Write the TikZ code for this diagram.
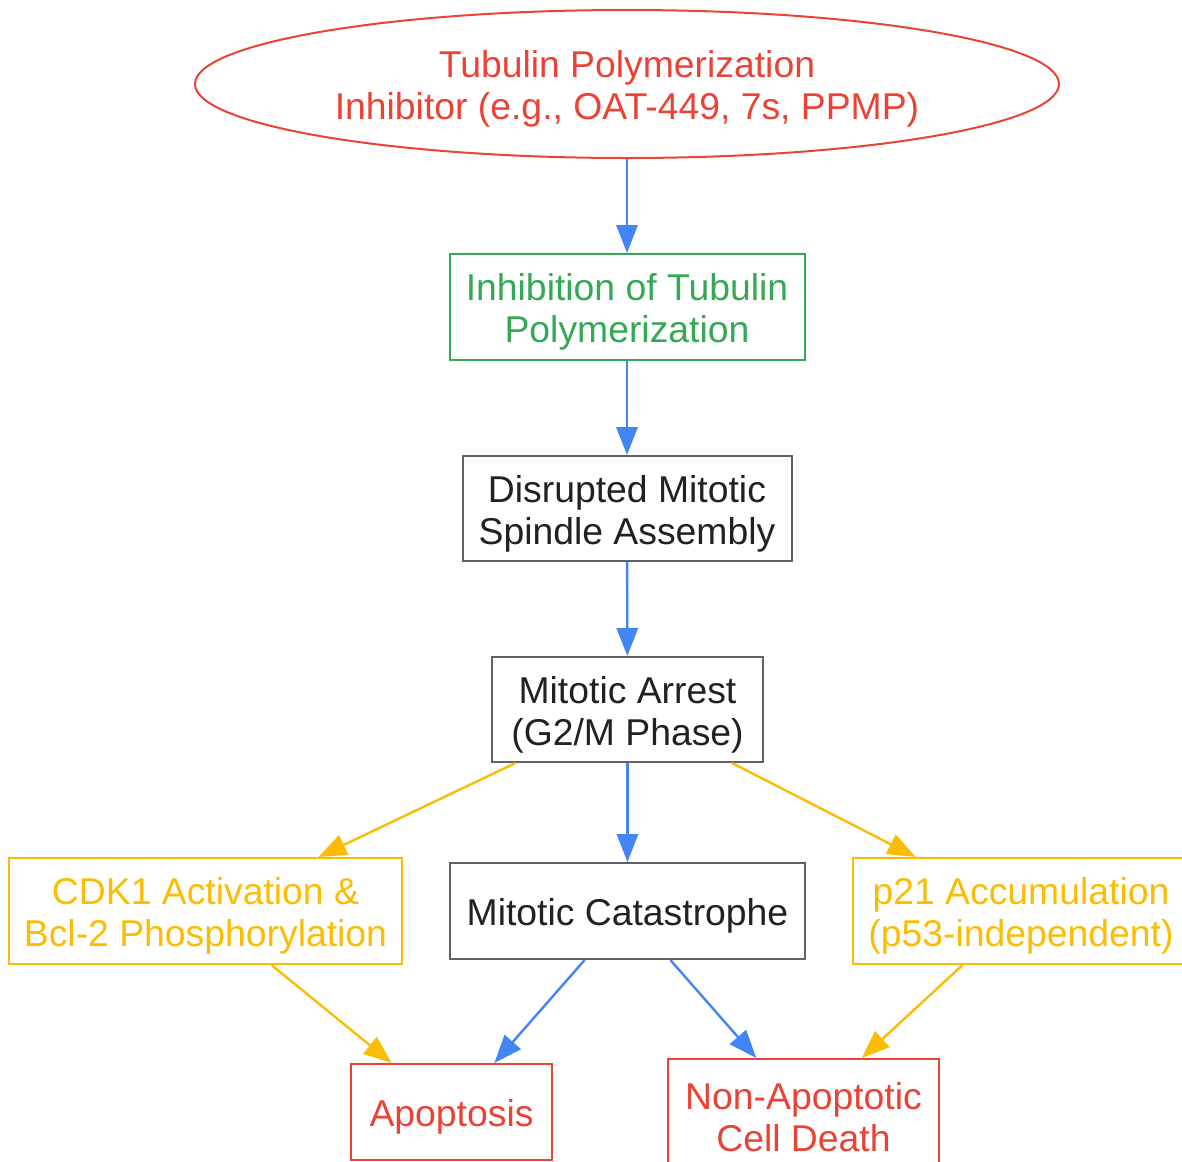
\documentclass[tikz,border=0pt]{standalone}
\usepackage{fontspec}
\setmainfont{Liberation Sans}
\usetikzlibrary{shapes.geometric, arrows.meta, positioning, calc}
\definecolor{gblue}{HTML}{4285F4}
\definecolor{gred}{HTML}{EA4335}
\definecolor{ggreen}{HTML}{34A853}
\definecolor{gyellow}{HTML}{FBBC05}
\definecolor{ggray}{HTML}{5F6368}
\definecolor{gtext}{HTML}{202124}

\begin{document}
\begin{tikzpicture}[x=0.75pt, y=-0.75pt,
  every node/.style={font=\fontsize{28}{31.5}\selectfont, align=center, inner sep=0pt, line width=1.5pt, text height=28pt},
  twoline/.style={text height=59.5pt},
  stepbox/.style={draw=ggray, text=gtext, rectangle},
  flow/.style={-{Triangle[length=21pt, width=16pt]}, line width=1.8pt}]
\useasboundingbox (0,0) rectangle (1182,1161);
% Pathway
\node[twoline, draw=gred, text=gred, ellipse, minimum width=648pt, minimum height=111pt] (drug) at (627,84) {Tubulin Polymerization\\Inhibitor (e.g., OAT-449, 7s, PPMP)};

\node[twoline, draw=ggreen, text=ggreen, rectangle, minimum width=266.25pt, minimum height=79.5pt] (inhib) at (627,307) {Inhibition of Tubulin\\Polymerization};
\node[twoline, stepbox, minimum width=246.75pt, minimum height=78.75pt] (spindle) at (627,508.5) {Disrupted Mitotic\\Spindle Assembly};
\node[twoline, stepbox, minimum width=203.25pt, minimum height=78.75pt] (arrest) at (627.5,709.5) {Mitotic Arrest\\(G2/M Phase)};

\node[twoline, draw=gyellow, text=gyellow, rectangle, minimum width=294.75pt, minimum height=79.5pt] (cdk) at (205.5,911) {CDK1 Activation \&\\Bcl-2 Phosphorylation};
\node[stepbox, minimum width=266.25pt, minimum height=72pt] (catas) at (627.5,911) {Mitotic Catastrophe};
\node[twoline, draw=gyellow, text=gyellow, rectangle, minimum width=252pt, minimum height=79.5pt] (p21) at (1021,911) {p21 Accumulation\\(p53-independent)};

\node[draw=gred, text=gred, rectangle, minimum width=150.75pt, minimum height=72pt] (apop) at (451.5,1112) {Apoptosis};
\node[twoline, draw=gred, text=gred, rectangle, minimum width=203.25pt, minimum height=79.5pt] (nonapop) at (803.5,1112) {Non-Apoptotic\\Cell Death};

\draw[flow, gblue] (drug) -- (inhib);
\draw[flow, gblue] (inhib) -- (spindle);
\draw[flow, gblue] (spindle) -- (arrest);
\draw[flow, gblue] (arrest) -- (catas);
\draw[flow, gyellow] (arrest) -- (cdk);
\draw[flow, gyellow] (arrest) -- (p21);

\draw[flow, gblue] (catas) -- (apop);
\draw[flow, gblue] (catas) -- (nonapop);
\draw[flow, gyellow] (cdk) -- (apop);
\draw[flow, gyellow] (p21) -- (nonapop);
\end{tikzpicture}
\end{document}
